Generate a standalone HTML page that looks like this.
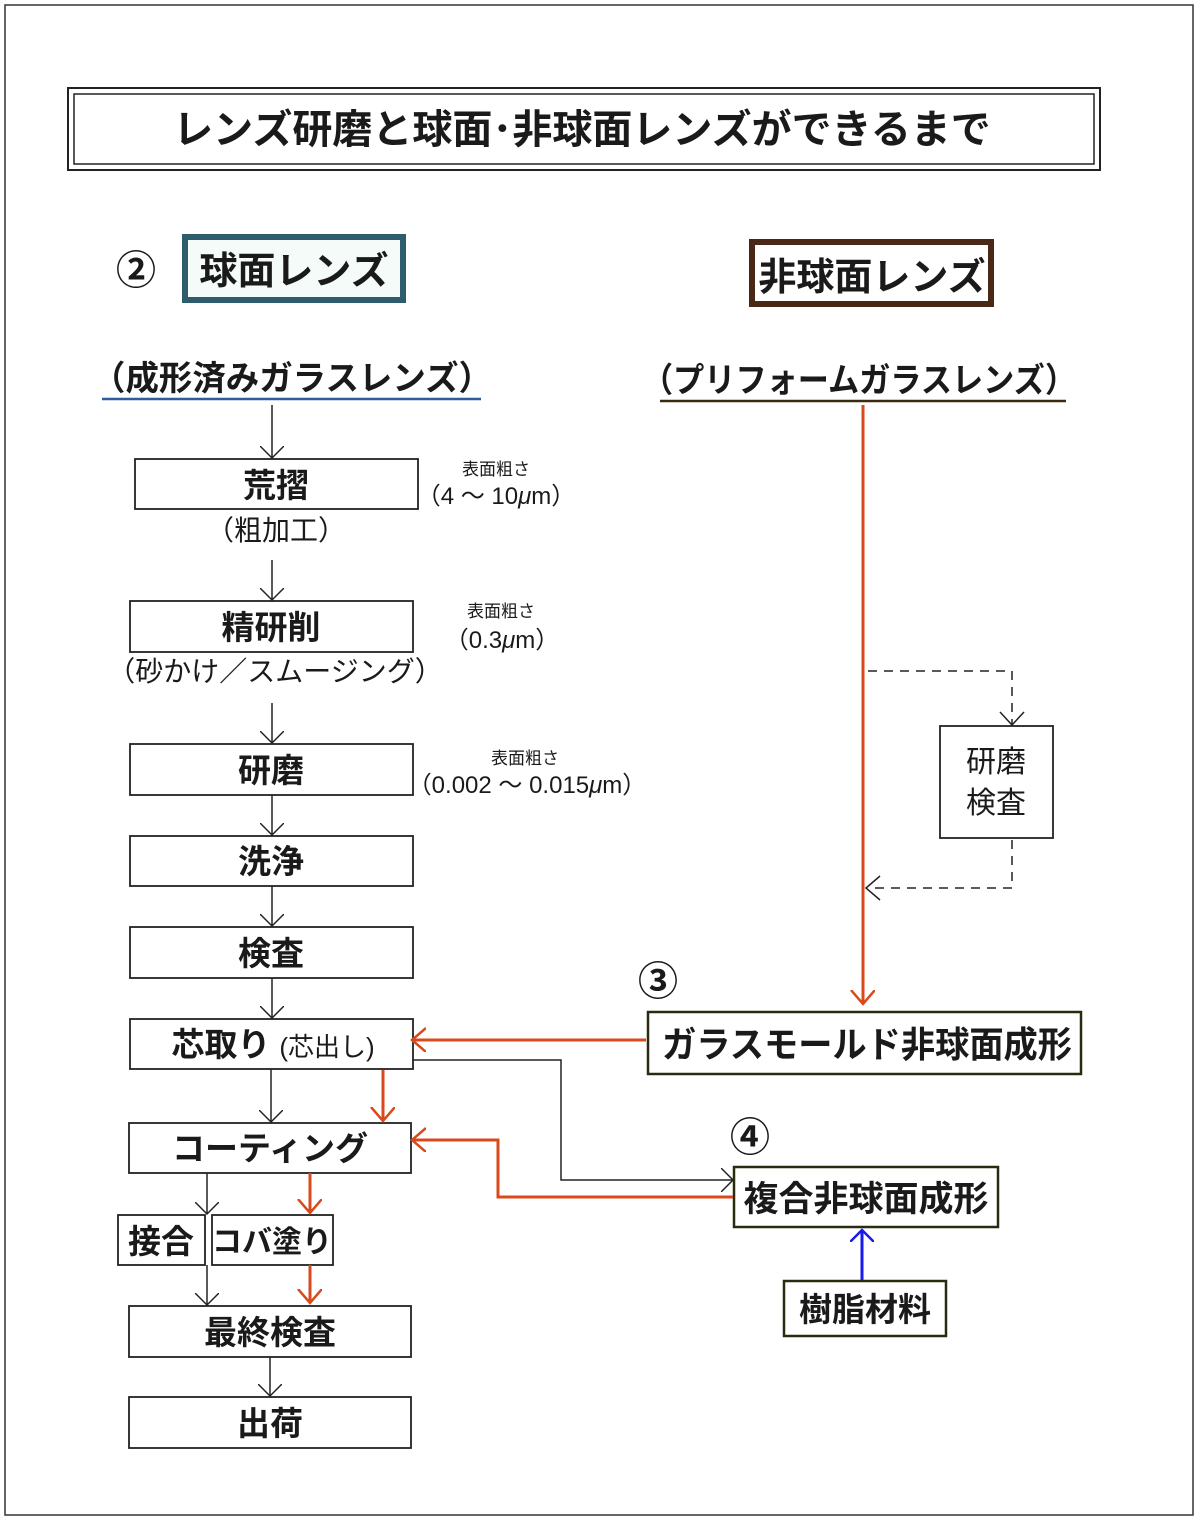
<!DOCTYPE html>
<html><head><meta charset="utf-8"><style>
html,body{margin:0;padding:0;background:#fff;}
svg{display:block;}
text{font-family:"Liberation Sans","Noto Sans CJK JP",sans-serif;fill:#1a1a1a;}
</style></head><body>
<svg width="1200" height="1523" viewBox="0 0 1200 1523" xmlns="http://www.w3.org/2000/svg">
<defs>
<marker id="ab" markerWidth="24" markerHeight="24" refX="12" refY="12" orient="auto" markerUnits="userSpaceOnUse"><path d="M0,0 L12,12 L0,24" fill="none" stroke="#222" stroke-width="1.5"/></marker>
<marker id="ar" markerWidth="30" markerHeight="30" refX="14" refY="12" orient="auto" markerUnits="userSpaceOnUse"><path d="M0,0 L14,12 L0,24" fill="none" stroke="#d84a1b" stroke-width="2.5"/></marker>
<marker id="au" markerWidth="24" markerHeight="24" refX="12" refY="12" orient="auto" markerUnits="userSpaceOnUse"><path d="M0,0 L12,12 L0,24" fill="none" stroke="#1a1aee" stroke-width="2.5"/></marker>
</defs>
<rect x="5" y="5" width="1188" height="1510" fill="#fff" stroke="#333" stroke-width="1.5"/>
<!-- title -->
<rect x="68" y="88" width="1032" height="82" fill="#fff" stroke="#222" stroke-width="2"/>
<rect x="74" y="94" width="1020" height="70" fill="none" stroke="#222" stroke-width="1.5"/>
<text x="582" y="143" font-size="40" font-weight="bold" text-anchor="middle">レンズ研磨と球面･非球面レンズができるまで</text>
<!-- headers -->
<text x="116" y="284" font-size="40" font-weight="bold">②</text>
<rect x="185" y="237" width="218" height="63" fill="#f4fbf8" stroke="#2d5d6b" stroke-width="6"/>
<text x="294" y="284" font-size="38" font-weight="bold" text-anchor="middle">球面レンズ</text>
<rect x="752" y="242" width="239" height="62" fill="#fff" stroke="#4a2818" stroke-width="6"/>
<text x="872" y="290" font-size="38" font-weight="bold" text-anchor="middle">非球面レンズ</text>
<text x="92" y="390" font-size="34" font-weight="bold" textLength="400" lengthAdjust="spacingAndGlyphs">（成形済みガラスレンズ）</text>
<line x1="102" y1="399" x2="481" y2="399" stroke="#2d5d9a" stroke-width="2.5"/>
<text x="642" y="392" font-size="34" font-weight="bold" textLength="434" lengthAdjust="spacingAndGlyphs">（プリフォームガラスレンズ）</text>
<line x1="660" y1="401" x2="1066" y2="401" stroke="#3a2a10" stroke-width="2.5"/>
<!-- left boxes -->
<g fill="#fff" stroke="#222" stroke-width="1.8">
<rect x="135" y="459" width="283" height="50"/>
<rect x="130" y="601" width="283" height="51"/>
<rect x="130" y="744" width="283" height="51"/>
<rect x="130" y="836" width="283" height="50"/>
<rect x="130" y="927" width="283" height="51"/>
<rect x="130" y="1019" width="283" height="50"/>
<rect x="129" y="1123" width="282" height="50"/>
<rect x="118" y="1215" width="87" height="50"/>
<rect x="212" y="1215" width="121" height="50"/>
<rect x="129" y="1306" width="282" height="51"/>
<rect x="129" y="1397" width="282" height="51"/>
</g>
<g font-size="33" font-weight="bold" text-anchor="middle">
<text x="276" y="497">荒摺</text>
<text x="271" y="639">精研削</text>
<text x="271" y="782">研磨</text>
<text x="271" y="873">洗浄</text>
<text x="271" y="965">検査</text>
<text x="221" y="1056">芯取り</text>
<text x="270" y="1160">コーティング</text>
<text x="161" y="1253">接合</text>
<text x="272" y="1252" font-size="30">コバ塗り</text>
<text x="270" y="1344">最終検査</text>
<text x="270" y="1435">出荷</text>
</g>
<text x="327" y="1056" font-size="26" text-anchor="middle">(芯出し)</text>
<g font-size="28" text-anchor="middle">
<text x="276" y="540">（粗加工）</text>
<text x="275" y="681">（砂かけ／スムージング）</text>
</g>
<g font-size="17" text-anchor="middle"><text x="496" y="475">表面粗さ</text><text x="501" y="617">表面粗さ</text><text x="525" y="764">表面粗さ</text></g>
<g font-size="24" text-anchor="middle"><text x="496" y="504">（4 ～ 10<tspan font-style="italic">μ</tspan>m）</text><text x="502" y="648">（0.3<tspan font-style="italic">μ</tspan>m）</text><text x="527" y="793">（0.002 ～ 0.015<tspan font-style="italic">μ</tspan>m）</text></g>
<!-- left black arrows -->
<g stroke="#222" stroke-width="1.5" marker-end="url(#ab)">
<line x1="272" y1="405" x2="272" y2="458"/>
<line x1="272" y1="560" x2="272" y2="600"/>
<line x1="272" y1="703" x2="272" y2="743"/>
<line x1="272" y1="795" x2="272" y2="835"/>
<line x1="272" y1="886" x2="272" y2="926"/>
<line x1="272" y1="978" x2="272" y2="1018"/>
<line x1="271" y1="1069" x2="271" y2="1122"/>
<line x1="207" y1="1173" x2="207" y2="1214"/>
<line x1="207" y1="1265" x2="207" y2="1305"/>
<line x1="270" y1="1357" x2="270" y2="1396"/>
<polyline points="413,1060 561,1060 561,1180 733,1180" fill="none"/>
</g>
<!-- right -->
<rect x="940" y="726" width="113" height="112" fill="#fff" stroke="#222" stroke-width="1.8"/>
<text x="996" y="772" font-size="30" text-anchor="middle">研磨</text>
<text x="996" y="813" font-size="30" text-anchor="middle">検査</text>
<g stroke="#222" stroke-width="1.5" stroke-dasharray="9,7" fill="none">
<polyline points="868,671 1012,671 1012,724"/>
<polyline points="1012,840 1012,888 868,888"/>
</g>
<path d="M1000,712 L1012,725 L1024,712" fill="none" stroke="#222" stroke-width="1.5"/>
<path d="M880,876 L866,888 L880,900" fill="none" stroke="#222" stroke-width="1.5"/>
<line x1="863" y1="405" x2="863" y2="1004" stroke="#d84a1b" stroke-width="3" marker-end="url(#ar)"/>
<text x="638" y="995" font-size="40" font-weight="bold">③</text>
<rect x="648" y="1012" width="433" height="62" fill="#fff" stroke="#2a2a10" stroke-width="2.5"/>
<text x="662" y="1057" font-size="36" font-weight="bold" textLength="410" lengthAdjust="spacingAndGlyphs">ガラスモールド非球面成形</text>
<text x="730" y="1151" font-size="40" font-weight="bold">④</text>
<rect x="734" y="1167" width="264" height="60" fill="#fff" stroke="#2a2a10" stroke-width="2.5"/>
<text x="866" y="1211" font-size="35" font-weight="bold" text-anchor="middle">複合非球面成形</text>
<rect x="784" y="1281" width="162" height="55" fill="#fff" stroke="#2a2a10" stroke-width="2.5"/>
<text x="865" y="1321" font-size="33" font-weight="bold" text-anchor="middle">樹脂材料</text>
<!-- red connectors -->
<g stroke="#d84a1b" stroke-width="3" fill="none" marker-end="url(#ar)">
<line x1="646" y1="1040" x2="412" y2="1040"/>
<polyline points="733,1197 498,1197 498,1140 412,1140"/>
<line x1="383" y1="1070" x2="383" y2="1121"/>
<line x1="310" y1="1173" x2="310" y2="1213"/>
<line x1="310" y1="1265" x2="310" y2="1303"/>
</g>
<line x1="862" y1="1280" x2="862" y2="1230" stroke="#1a1aee" stroke-width="3" marker-end="url(#au)"/>
</svg>
</body></html>
